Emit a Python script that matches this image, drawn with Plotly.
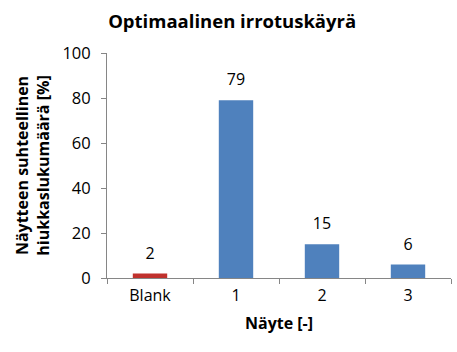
import plotly.graph_objects as go

categories = ["Blank", "1", "2", "3"]
values = [2, 79, 15, 6]
bar_colors = ["#C0312D", "#4F81BD", "#4F81BD", "#4F81BD"]
y_ticks = [0, 20, 40, 60, 80, 100]

font_family = "Open Sans, Noto Sans, sans-serif"

fig = go.Figure()
fig.add_trace(go.Bar(
    x=categories, y=values,
    marker=dict(color=bar_colors, line=dict(width=0)),
    hoverinfo="x+y",
))
fig.add_trace(go.Scatter(
    x=categories, y=values, mode="markers+text",
    marker=dict(size=16, opacity=0),
    text=[str(v) for v in values], textposition="top center",
    textfont=dict(size=16, color="#000000", family=font_family),
    cliponaxis=False, hoverinfo="skip",
))

fig.update_layout(
    width=457, height=352,
    margin=dict(l=107, r=6, t=53, b=74),
    paper_bgcolor="white", plot_bgcolor="white",
    bargap=0.6,
    showlegend=False,
    font=dict(family=font_family, color="#000000"),
    title=dict(text="<b>Optimaalinen irrotuskäyrä</b>", x=0.508, xanchor="center",
               y=0.94, yanchor="middle", font=dict(size=18.5, family=font_family)),
    xaxis=dict(
        showline=True, linecolor="#868686", linewidth=1,
        ticks="outside", tickson="boundaries", ticklen=5, tickcolor="#868686",
        tickfont=dict(size=16), showgrid=False, ticklabelstandoff=3,
        title=dict(text="<b>Näyte [-]</b>", font=dict(size=16), standoff=12),
    ),
    yaxis=dict(
        range=[0, 100], tickvals=y_ticks, showline=True, linecolor="#868686", linewidth=1,
        ticks="outside", ticklen=5, tickcolor="#868686",
        tickfont=dict(size=16.5), showgrid=False, zeroline=False, ticklabelstandoff=7,
        title=dict(text="<b>Näytteen suhteellinen<br>hiukkaslukumäärä [%]</b>",
                   font=dict(size=16), standoff=8),
    ),
)

fig.write_html("out.html")
